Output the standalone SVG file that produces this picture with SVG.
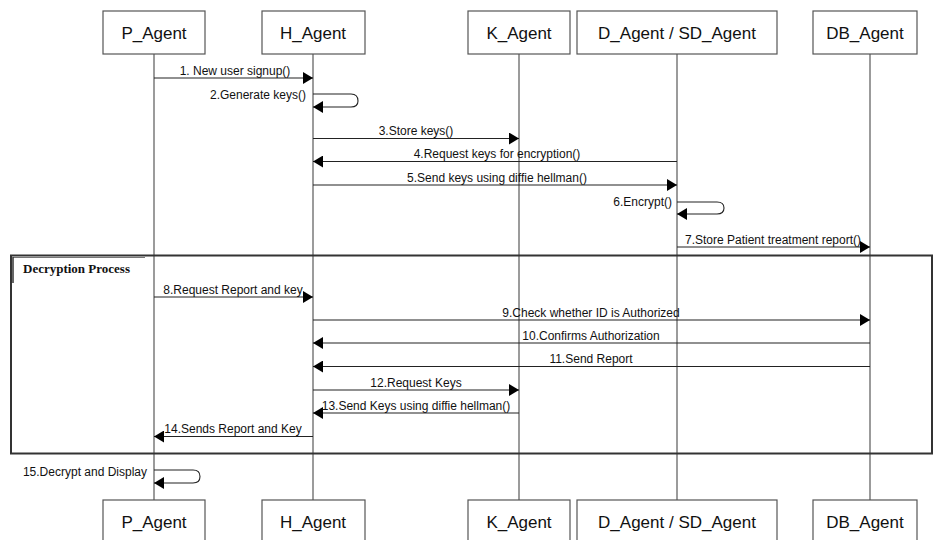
<svg xmlns="http://www.w3.org/2000/svg" width="933" height="540" viewBox="0 0 933 540">
<style>
.box{fill:#fff;stroke:#555;stroke-width:1.2}
.bt{font-family:"Liberation Sans",Arial,sans-serif;font-size:17px;fill:#111;text-anchor:middle}
.life{stroke:#7a7a7a;stroke-width:1.5}
.msg{stroke:#222;stroke-width:1.1;fill:none}
.ml{font-family:"Liberation Sans",Arial,sans-serif;font-size:12px;fill:#111;text-anchor:middle}
.mr{font-family:"Liberation Sans",Arial,sans-serif;font-size:12px;fill:#111;text-anchor:end}
.frame{fill:none;stroke:#333;stroke-width:2}
.ft{font-family:"Liberation Serif","Times New Roman",serif;font-size:13px;font-weight:bold;fill:#111}
</style>
<defs>
<marker id="ah" viewBox="0 0 10 12" refX="10" refY="6" markerWidth="10" markerHeight="12" markerUnits="userSpaceOnUse" orient="auto">
<path d="M0,0 L10,6 L0,12 Z" fill="#000"/>
</marker>
</defs>
<rect width="933" height="540" fill="#fff"/>
<g id="lifelines">
<line class="life" x1="154" y1="54" x2="154" y2="500"/>
<line class="life" x1="313" y1="54" x2="313" y2="500"/>
<line class="life" x1="519" y1="54" x2="519" y2="500"/>
<line class="life" x1="677" y1="54" x2="677" y2="500"/>
<line class="life" x1="870" y1="54" x2="870" y2="500"/>
</g>
<g id="frame">
<rect class="frame" x="11" y="255.5" width="921" height="198"/>
<line x1="13" y1="257.5" x2="145" y2="257.5" stroke="#777" stroke-width="1"/>
<line x1="13" y1="257" x2="13" y2="283" stroke="#333" stroke-width="1.5"/>
<text class="ft" x="23" y="273">Decryption Process</text>
</g>
<g id="P_Agent"><rect class="box" x="103" y="11" width="102" height="43"/><text class="bt" x="154" y="38.5">P_Agent</text></g>
<g id="H_Agent"><rect class="box" x="262" y="11" width="103" height="43"/><text class="bt" x="313" y="38.5">H_Agent</text></g>
<g id="K_Agent"><rect class="box" x="468" y="11" width="102" height="43"/><text class="bt" x="519" y="38.5">K_Agent</text></g>
<g id="D_Agent"><rect class="box" x="577" y="11" width="200" height="43"/><text class="bt" x="677" y="38.5">D_Agent / SD_Agent</text></g>
<g id="DB_Agent"><rect class="box" x="813" y="11" width="104" height="43"/><text class="bt" x="865" y="38.5">DB_Agent</text></g>
<g id="P_Agent_bottom"><rect class="box" x="103" y="500" width="102" height="44"/><text class="bt" x="154" y="527.5">P_Agent</text></g>
<g id="H_Agent_bottom"><rect class="box" x="262" y="500" width="103" height="44"/><text class="bt" x="313" y="527.5">H_Agent</text></g>
<g id="K_Agent_bottom"><rect class="box" x="468" y="500" width="102" height="44"/><text class="bt" x="519" y="527.5">K_Agent</text></g>
<g id="D_Agent_bottom"><rect class="box" x="577" y="500" width="200" height="44"/><text class="bt" x="677" y="527.5">D_Agent / SD_Agent</text></g>
<g id="DB_Agent_bottom"><rect class="box" x="813" y="500" width="104" height="44"/><text class="bt" x="865" y="527.5">DB_Agent</text></g>
<g id="connectors">
<line class="msg" x1="154" y1="78" x2="313" y2="78" marker-end="url(#ah)"/>
<path class="msg" d="M313,94 H351 Q358,94 358,101 Q358,107 351,107 H313" marker-end="url(#ah)"/>
<line class="msg" x1="313" y1="138.5" x2="519" y2="138.5" marker-end="url(#ah)"/>
<line class="msg" x1="677" y1="161.5" x2="313" y2="161.5" marker-end="url(#ah)"/>
<line class="msg" x1="313" y1="185" x2="677" y2="185" marker-end="url(#ah)"/>
<path class="msg" d="M677,202 H717 Q724,202 724,208 Q724,214 717,214 H677" marker-end="url(#ah)"/>
<line class="msg" x1="677" y1="247" x2="870" y2="247" marker-end="url(#ah)"/>
<line class="msg" x1="154" y1="297" x2="313" y2="297" marker-end="url(#ah)"/>
<line class="msg" x1="313" y1="320" x2="870" y2="320" marker-end="url(#ah)"/>
<line class="msg" x1="870" y1="343" x2="313" y2="343" marker-end="url(#ah)"/>
<line class="msg" x1="870" y1="366.5" x2="313" y2="366.5" marker-end="url(#ah)"/>
<line class="msg" x1="313" y1="390" x2="519" y2="390" marker-end="url(#ah)"/>
<line class="msg" x1="519" y1="413" x2="313" y2="413" marker-end="url(#ah)"/>
<line class="msg" x1="313" y1="436.5" x2="154" y2="436.5" marker-end="url(#ah)"/>
<path class="msg" d="M154,470 H193 Q200,470 200,476.5 Q200,483 193,483 H154" marker-end="url(#ah)"/>
</g>
<g id="labels">
<text class="ml" x="235" y="75">1. New user signup()</text>
<text class="mr" x="306" y="99">2.Generate keys()</text>
<text class="ml" x="416" y="135">3.Store keys()</text>
<text class="ml" x="497" y="158">4.Request keys for encryption()</text>
<text class="ml" x="497" y="182">5.Send keys using diffie hellman()</text>
<text class="mr" x="672" y="206">6.Encrypt()</text>
<text class="ml" x="773" y="244">7.Store Patient treatment report()</text>
<text class="ml" x="233" y="294">8.Request Report and key</text>
<text class="ml" x="591" y="317">9.Check whether ID is Authorized</text>
<text class="ml" x="591" y="340">10.Confirms Authorization</text>
<text class="ml" x="591" y="363">11.Send Report</text>
<text class="ml" x="416" y="387">12.Request Keys</text>
<text class="ml" x="416" y="410">13.Send Keys using diffie hellman()</text>
<text class="ml" x="233" y="433">14.Sends Report and Key</text>
<text class="mr" x="147" y="476">15.Decrypt and Display</text>
</g>
</svg>
